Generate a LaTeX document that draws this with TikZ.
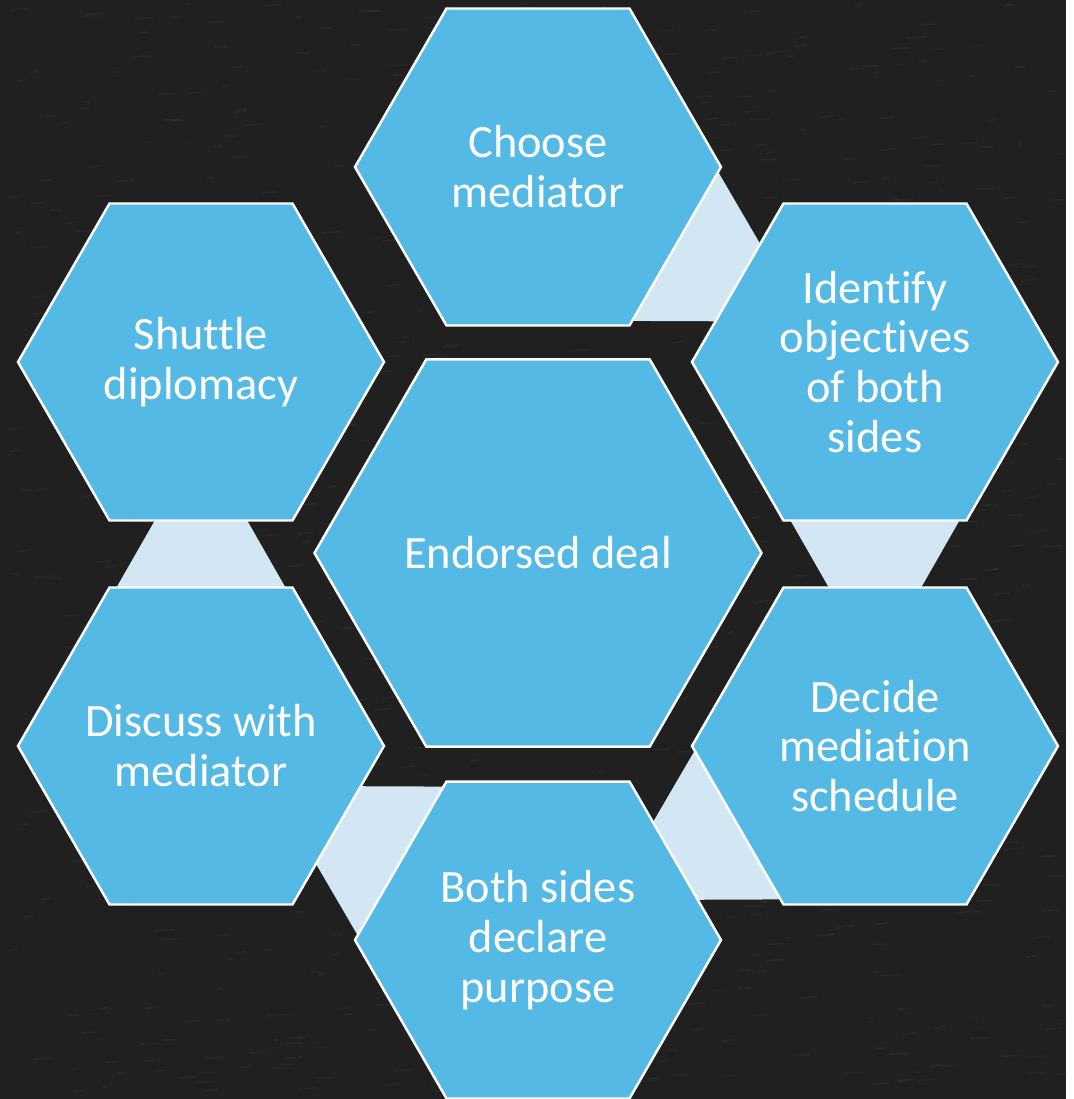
\documentclass[tikz,border=0pt]{standalone}
\usepackage{fontspec}
\setmainfont{Carlito}[Ligatures={NoCommon}]
\usepackage{tikz}
\usetikzlibrary{shapes.geometric,calc}

\definecolor{board}{RGB}{32,32,32}
\definecolor{hexblue}{RGB}{84,185,228}
\definecolor{linkblue}{RGB}{210,230,244}

\pgfdeclarelayer{board}
\pgfdeclarelayer{links}
\pgfsetlayers{board,links,main}

\tikzset{
    hexa/.style={regular polygon, regular polygon sides=6, draw=white,
        line width=0.7pt, fill=hexblue, text=white, align=center,
        inner sep=-25pt, outer sep=0pt, minimum size=3.66cm,
        font=\fontsize{13.2}{14.2}\selectfont},
    hexbig/.style={hexa, minimum size=4.47cm},
    linkfill/.style={fill=linkblue}
}

% trapezoid between two hexagons, narrow end towards the second one
\newcommand{\link}[3]{
    \fill[linkfill, shift={($(#1)!0.5!(#2)$)}, rotate=#3]
        (-0.442,0.37) -- (0.442,0.37) -- (0.865,-0.37) -- (-0.865,-0.37) -- cycle;
}

\begin{document}
\begin{tikzpicture}

\begin{pgfonlayer}{board}
\fill[board] (-5.38,-5.46) rectangle (5.28,5.53);
\pgfmathsetseed{7}
\foreach \i in {1,...,900}
    \draw[white, opacity=0.035, line width=0.5pt]
        ({-5.3+10.5*rnd},{-5.4+10.9*rnd}) -- ++({0.05+0.15*rnd},{0.02*rnd});
\end{pgfonlayer}
\useasboundingbox (-5.38,-5.46) rectangle (5.28,5.53);

\node[hexbig] (deal) at (0,0) {Endorsed deal};

\node[hexa] (choose)   at (0,3.86)      {Choose\\mediator};
\node[hexa] (identify) at (3.37,1.91)   {Identify\\objectives\\of both\\sides};
\node[hexa] (decide)   at (3.37,-1.93)  {Decide\\mediation\\schedule};
\node[hexa] (declare)  at (0,-3.87)     {Both sides\\declare\\purpose};
\node[hexa] (discuss)  at (-3.37,-1.93) {Discuss with\\mediator};
\node[hexa] (shuttle)  at (-3.37,1.91)  {Shuttle\\diplomacy};

\begin{pgfonlayer}{links}
\link{choose}{identify}{-120}
\link{identify}{decide}{180}
\link{decide}{declare}{120}
\link{declare}{discuss}{60}
\link{discuss}{shuttle}{0}
\end{pgfonlayer}

\end{tikzpicture}
\end{document}
